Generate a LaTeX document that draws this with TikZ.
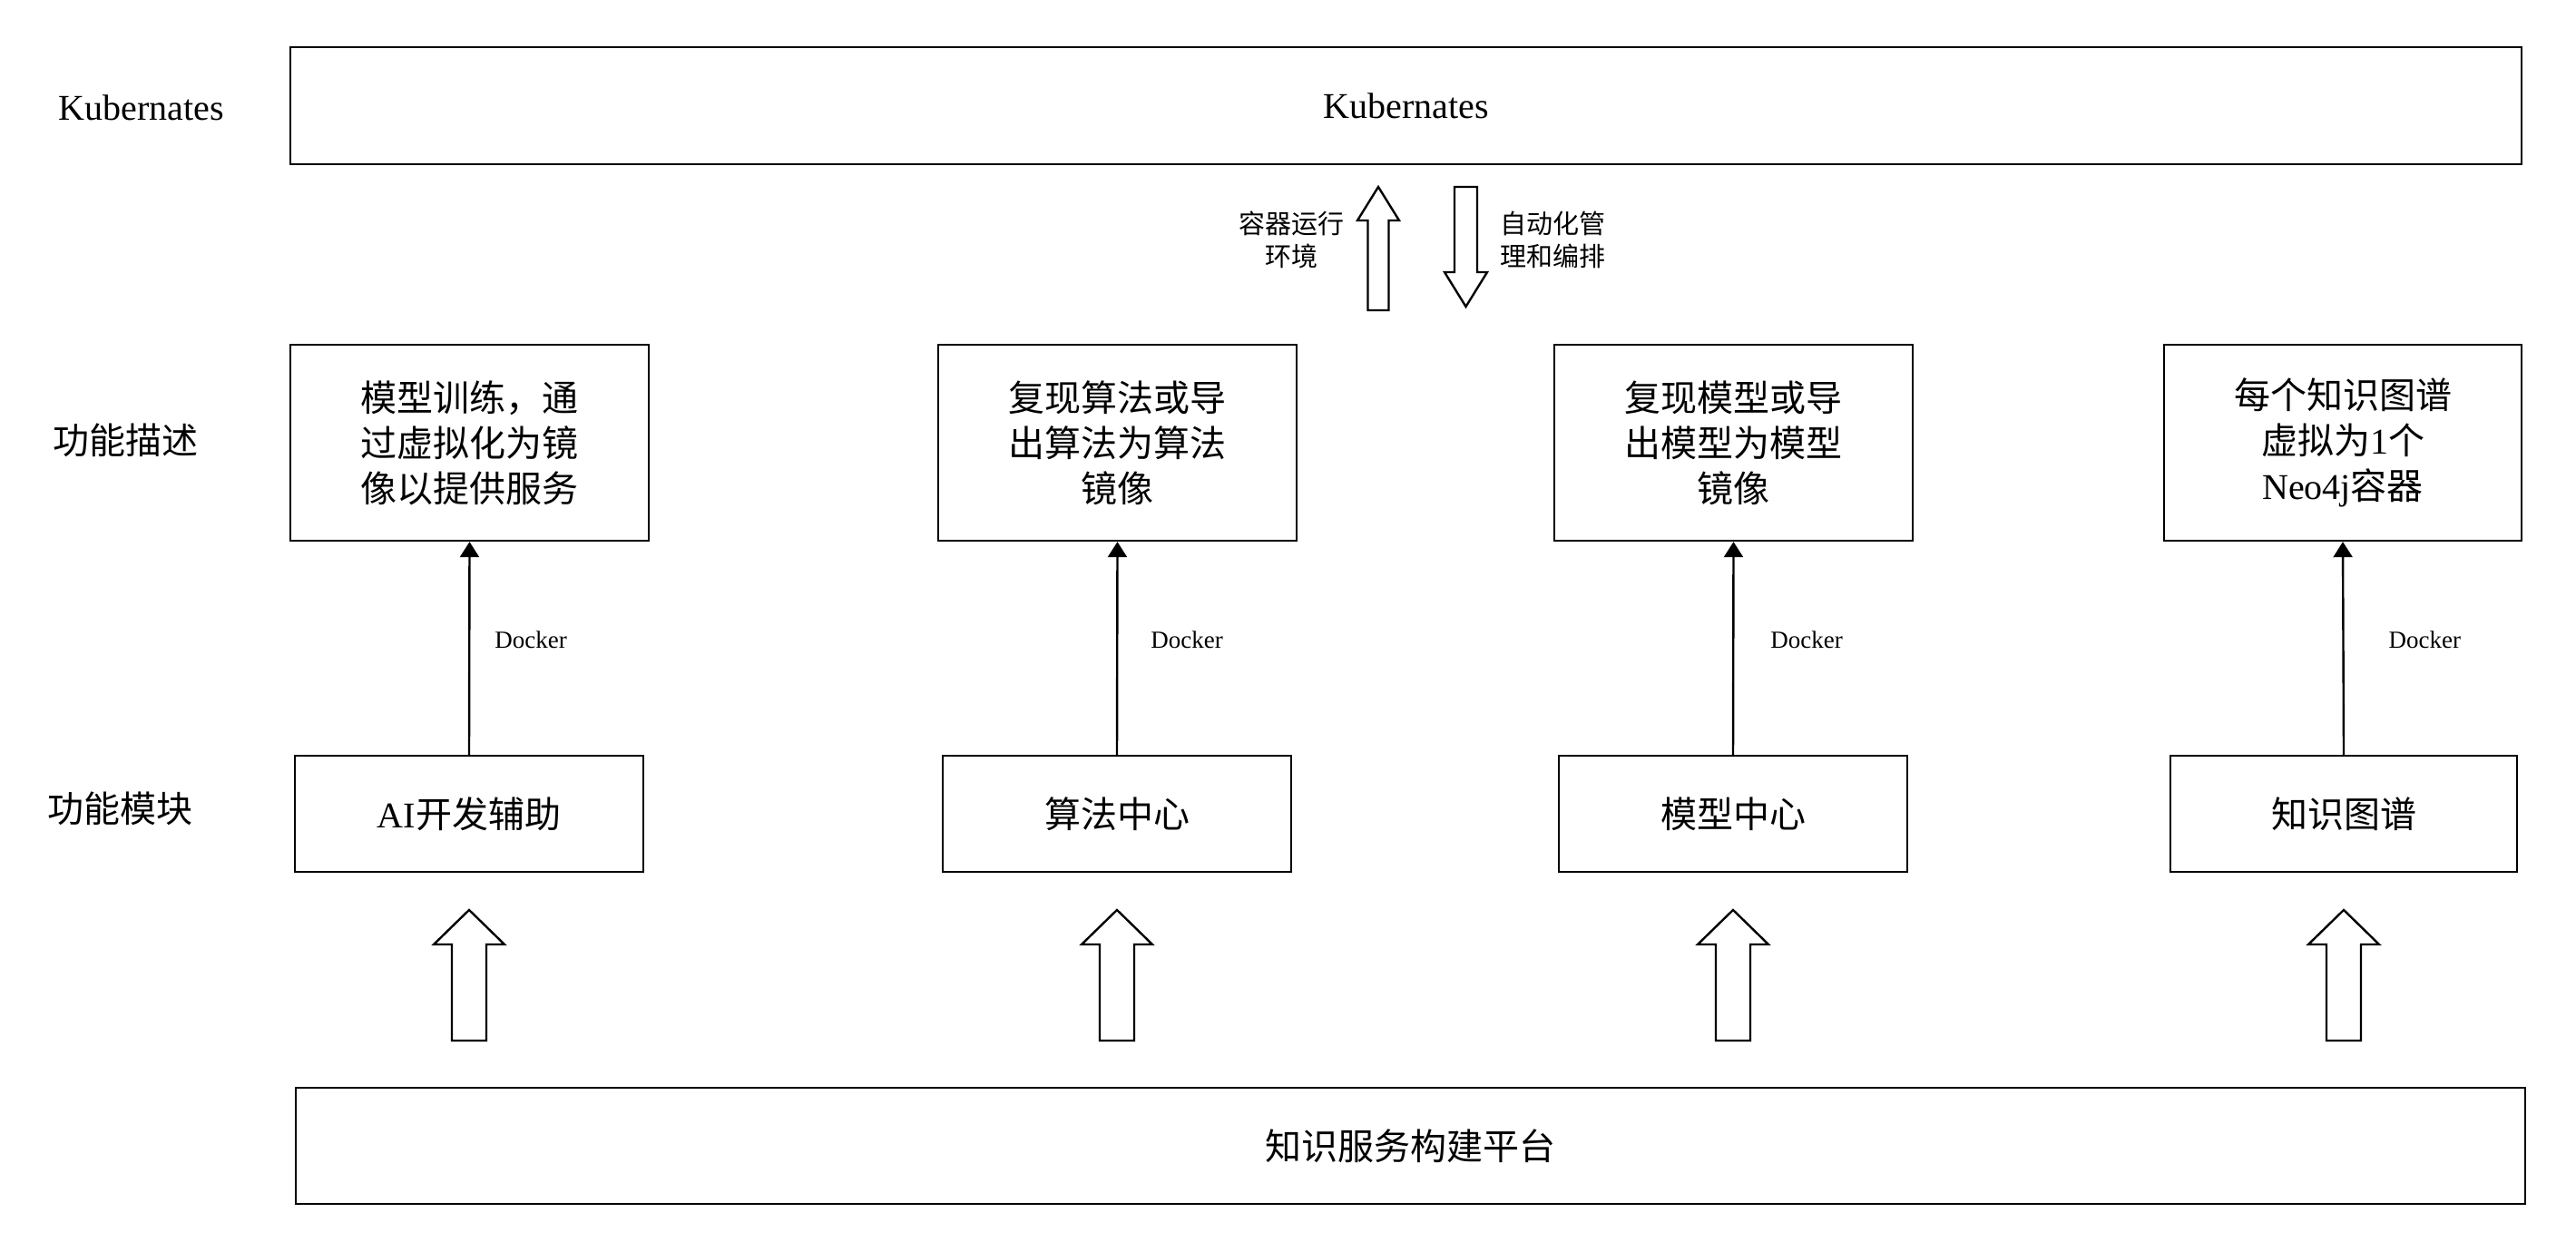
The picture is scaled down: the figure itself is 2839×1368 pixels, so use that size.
\documentclass[tikz,border=0pt]{standalone}
\usepackage{fontspec}
\setmainfont{Liberation Serif}
\newfontfamily\cjk{Noto Sans CJK SC}
\newcommand\zh[1]{{\cjk #1}}
\usetikzlibrary{arrows.meta}
\begin{document}
\begin{tikzpicture}[x=1pt,y=-1pt,
  box/.style={draw, line width=2.4pt, inner sep=0pt, align=center,
    font=\fontsize{40}{50}\selectfont},
  lbl/.style={inner sep=0pt, align=center, font=\fontsize{40}{50}\selectfont},
  small/.style={inner sep=0pt, align=center, font=\fontsize{29}{36}\selectfont},
  dock/.style={inner sep=0pt, font=\fontsize{27}{30}\selectfont},
  conn/.style={line width=2.4pt, -{Triangle[width=21pt,length=17pt]}},
  hollow/.style={draw, line width=2.4pt, fill=white, line join=miter}]
\useasboundingbox[fill=white] (0,0) rectangle (2839,1368);

% top
\node[box, minimum width=2459pt, minimum height=129pt] (kube) at (1549.5,116.5) {Kubernates};
\node[lbl] (lkube) at (156,119) {Kubernates};
\node[lbl] (ldesc) at (138,485) {\zh{功能描述}};
\node[lbl] (lmod) at (132,891) {\zh{功能模块}};

% description boxes
\node[box, minimum width=395pt, minimum height=216pt] (d1) at (517.5,488) {\zh{模型训练，通}\\\zh{过虚拟化为镜}\\\zh{像以提供服务}};
\node[box, minimum width=395pt, minimum height=216pt] (d2) at (1231.5,488) {\zh{复现算法或导}\\\zh{出算法为算法}\\\zh{镜像}};
\node[box, minimum width=395pt, minimum height=216pt] (d3) at (1910.5,488) {\zh{复现模型或导}\\\zh{出模型为模型}\\\zh{镜像}};
\node[box, minimum width=394pt, minimum height=216pt] (d4) at (2582,488) {\zh{每个知识图谱}\\\zh{虚拟为}1\zh{个}\\Neo4j\zh{容器}};

% module boxes
\node[box, minimum width=384pt, minimum height=128pt] (m1) at (517,897) {AI\zh{开发辅助}};
\node[box, minimum width=384pt, minimum height=128pt] (m2) at (1231,897) {\zh{算法中心}};
\node[box, minimum width=384pt, minimum height=128pt] (m3) at (1910,897) {\zh{模型中心}};
\node[box, minimum width=382pt, minimum height=128pt] (m4) at (2583,897) {\zh{知识图谱}};

% bottom
\node[box, minimum width=2457pt, minimum height=128pt] (base) at (1554.5,1263) {\zh{知识服务构建平台}};

% docker connectors
\foreach \i/\dx in {1/27,2/36,3/40,4/49}{
  \draw[conn] (m\i.north) -- (d\i.south)
    node[dock, pos=0.54, anchor=west, xshift=\dx pt] (dk\i) {Docker};
}

% hollow arrows from base to modules
\foreach \cx in {517,1231,1910,2583}{
  \draw[hollow] (\cx-19,1147) -- (\cx-19,1041) -- (\cx-39,1041) -- (\cx,1003)
    -- (\cx+39,1041) -- (\cx+19,1041) -- (\cx+19,1147) -- cycle;
}

% up / down hollow arrows under kubernetes
\draw[hollow] (1507.5,342) -- (1507.5,243) -- (1496,243) -- (1519,206)
  -- (1542,243) -- (1530.5,243) -- (1530.5,342) -- cycle;
\draw[hollow] (1603,206) -- (1603,300) -- (1592,300) -- (1615.5,338)
  -- (1639,300) -- (1628,300) -- (1628,206) -- cycle;
\node[small] (tenv) at (1423,264) {\zh{容器运行}\\\zh{环境}};
\node[small] (tmgmt) at (1711,264) {\zh{自动化管}\\\zh{理和编排}};
\end{tikzpicture}
\end{document}
